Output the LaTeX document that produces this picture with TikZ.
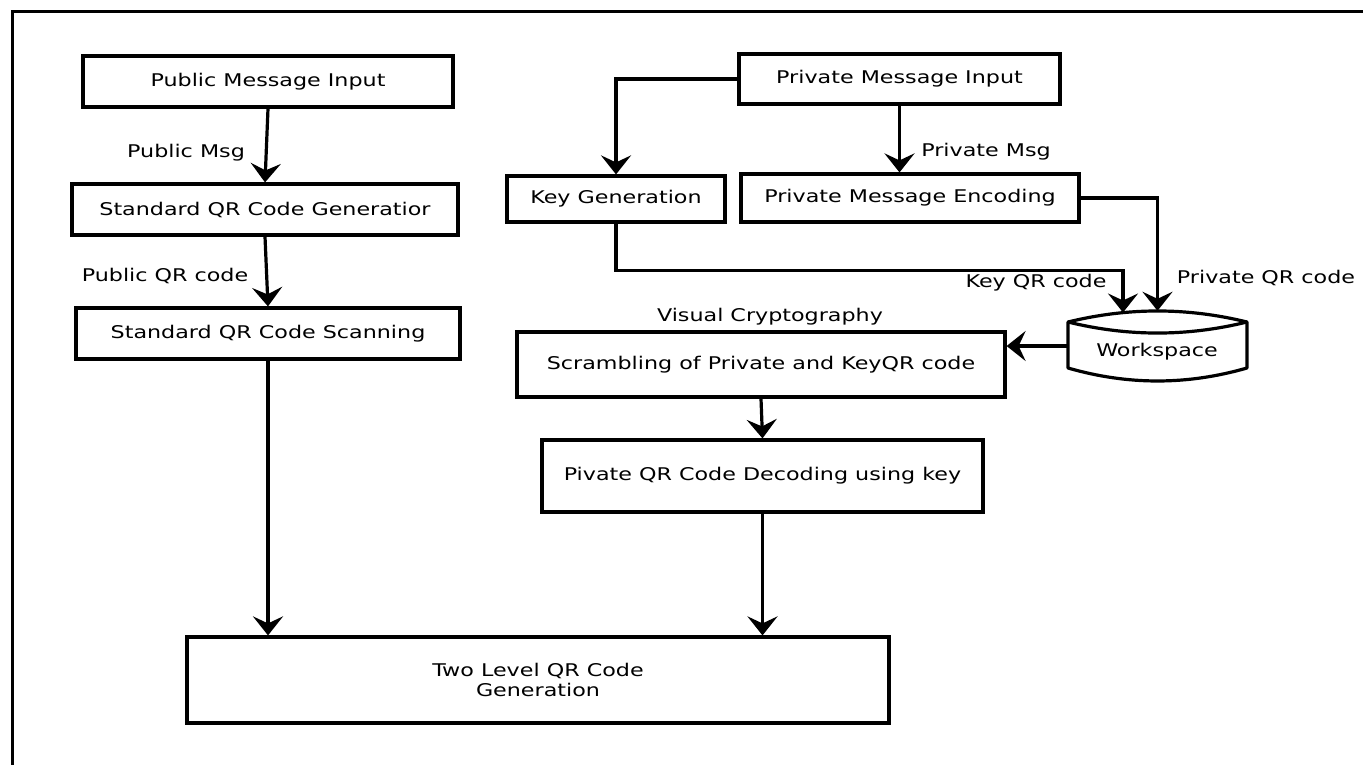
\documentclass[tikz,border=0pt]{standalone}
\usepackage{fontspec}
\setmainfont{DejaVu Sans}[FakeStretch=1.27]
\usetikzlibrary{arrows.meta}
\newcommand\dfont{\fontsize{17.5}{20}\selectfont}
\tikzset{
  box/.style={draw, line width=3.2pt, inner sep=0pt, font=\dfont, align=center},
  lbl/.style={inner sep=0pt, font=\dfont},
  arr/.style={line width=3.2pt, -{Stealth[length=19pt,width=30pt,inset=7pt]}},
}
\begin{document}
\begin{tikzpicture}[x=1pt,y=-1pt]
\useasboundingbox (0,0) rectangle (1363,764);
% outer frame
\draw[line width=3pt] (12,790) -- (12,11) -- (1390,11);

% left column
\node[box, minimum width=370pt, minimum height=51pt] (pubin) at (268,81.5) {Public Message Input};
\node[box, minimum width=386pt, minimum height=51pt] (sqg) at (265,209.5) {Standard QR Code Generatior};
\node[box, minimum width=384pt, minimum height=51pt] (sqs) at (268,333.5) {Standard QR Code Scanning};

% right part
\node[box, minimum width=321pt, minimum height=50pt] (privin) at (899.5,79) {Private Message Input};
\node[box, minimum width=218pt, minimum height=46pt] (kg) at (616,199) {Key Generation};
\node[box, minimum width=338pt, minimum height=48pt] (pme) at (910,198) {Private Message Encoding};
\node[box, minimum width=488pt, minimum height=65pt] (scr) at (761,364.5) {Scrambling of Private and KeyQR code};
\node[box, minimum width=441pt, minimum height=72pt] (dec) at (762.5,476) {Pivate QR Code Decoding using key};
\node[box, minimum width=702pt, minimum height=86pt] (tl) at (538,680) {Two Level QR Code\\Generation};

% workspace cylinder
\node[inner sep=0pt, minimum width=179pt, minimum height=70pt] (ws) at (1157.5,346) {};
\draw[line width=3.2pt, line join=round] (1068,322) .. controls (1128,307.3) and (1187,307.3) .. (1247,322)
  -- (1247,368) .. controls (1187,385.3) and (1128,385.3) .. (1068,368) -- cycle;
\draw[line width=3.2pt] (1068,322) .. controls (1128,336.7) and (1187,336.7) .. (1247,322);
\node[lbl] (wstext) at (1157,352) {Workspace};
\coordinate (wsk) at (1123,312.5);

% labels
\node[lbl] (lpm) at (186,153) {Public Msg};
\node[lbl] (lpq) at (165,276) {Public QR code};
\node[lbl] (lprm) at (986,152) {Private Msg};
\node[lbl] (lkq) at (1036,283) {Key QR code};
\node[lbl] (lprq) at (1266,278) {Private QR code};
\node[lbl] (lvc) at (770,317) {Visual Cryptography};

% connectors
\draw[arr] (pubin.south) -- (sqg.north);
\draw[arr] (sqg.south) -- (sqs.north);
\draw[arr] (sqs.south) -- (sqs.south |- tl.north);
\draw[arr] (privin.west) -| (kg.north);
\draw[arr] (privin.south) -- (privin.south |- pme.north);
\draw[arr] (pme.east) -| (ws.north);
\draw[arr] (kg.south) -- ++(0,46.5) -| (wsk);
\draw[arr] (ws.west) -- (ws.west -| scr.east);
\draw[arr] (scr.south) -- (dec.north);
\draw[arr] (dec.south) -- (dec.south |- tl.north);
\end{tikzpicture}
\end{document}
